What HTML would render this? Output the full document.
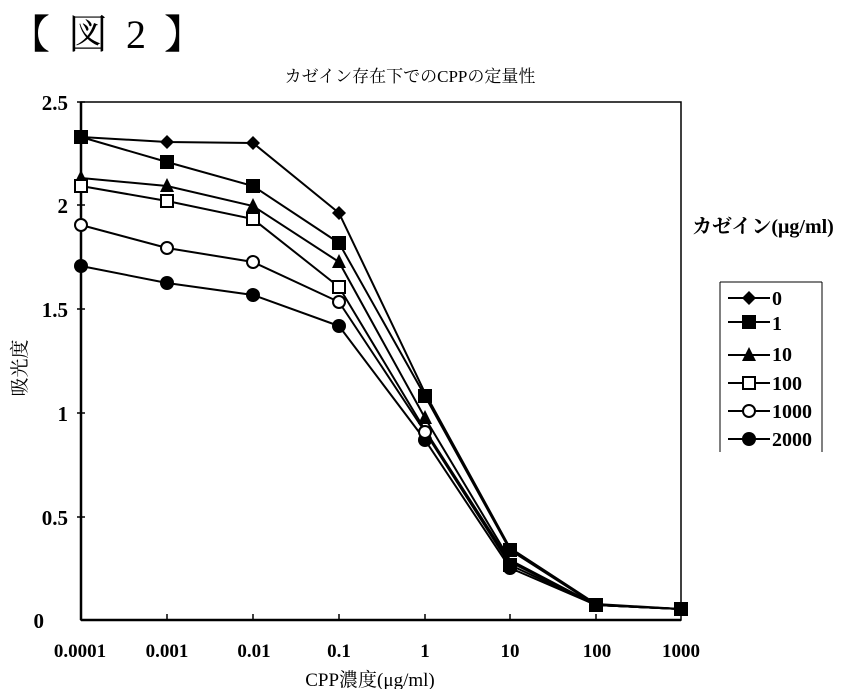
<!DOCTYPE html>
<html><head><meta charset="utf-8"><style>
html,body{margin:0;padding:0;background:#fff;}
svg{display:block;}
text{font-family:"Liberation Serif","Noto Serif CJK SC","Noto Sans CJK JP",serif;fill:#000;}
</style></head><body>
<svg width="861" height="689" viewBox="0 0 861 689" xmlns="http://www.w3.org/2000/svg">
<defs>
<g id="dia"><polygon points="0,-7 7,0 0,7 -7,0" fill="#000"/></g>
<g id="sq"><rect x="-7" y="-7" width="14" height="14" fill="#000"/></g>
<g id="tri"><polygon points="0,-8 7,6 -7,6" fill="#000"/></g>
<g id="osq"><rect x="-6" y="-6" width="12" height="12" fill="#fff" stroke="#000" stroke-width="2"/></g>
<g id="oci"><circle r="6" fill="#fff" stroke="#000" stroke-width="2"/></g>
<g id="fci"><circle r="7" fill="#000"/></g>
</defs>
<text x="10" y="48" font-size="40" font-family="Liberation Sans,Noto Sans CJK JP,sans-serif" letter-spacing="4">【 図 2 】</text>
<text x="410" y="82" font-size="17" text-anchor="middle">カゼイン存在下でのCPPの定量性</text>
<rect x="81" y="102" width="600" height="518" fill="none" stroke="#000" stroke-width="1.5"/>
<line x1="81" y1="102" x2="81" y2="620" stroke="#000" stroke-width="2.5"/>
<line x1="81" y1="620" x2="681" y2="620" stroke="#000" stroke-width="2.5"/>
<g stroke="#000" stroke-width="1.5">
<line x1="77" y1="102" x2="85" y2="102"/><line x1="77" y1="205" x2="85" y2="205"/><line x1="77" y1="309" x2="85" y2="309"/><line x1="77" y1="413" x2="85" y2="413"/><line x1="77" y1="517" x2="85" y2="517"/>
<line x1="167" y1="614" x2="167" y2="620"/><line x1="253" y1="614" x2="253" y2="620"/><line x1="339" y1="614" x2="339" y2="620"/><line x1="425" y1="614" x2="425" y2="620"/><line x1="510" y1="614" x2="510" y2="620"/><line x1="596" y1="614" x2="596" y2="620"/>
</g>
<g font-size="21" font-weight="bold" text-anchor="end">
<text x="68" y="110">2.5</text><text x="68" y="213">2</text><text x="68" y="317">1.5</text><text x="68" y="421">1</text><text x="68" y="525">0.5</text><text x="44" y="628">0</text>
</g>
<g font-size="19" font-weight="bold" text-anchor="middle">
<text x="80" y="657">0.0001</text><text x="167" y="657">0.001</text><text x="254" y="657">0.01</text><text x="339" y="657">0.1</text><text x="425" y="657">1</text><text x="510" y="657">10</text><text x="597" y="657">100</text><text x="681" y="657">1000</text>
</g>
<text x="370" y="686" font-size="19" text-anchor="middle">CPP濃度(μg/ml)</text>
<text transform="translate(26,368) rotate(-90)" font-size="19" text-anchor="middle">吸光度</text>
<g fill="none" stroke="#000" stroke-width="2">
<polyline points="81,137 167,142 253,143 339,213 425,393 510,548 596,604 681,609"/>
<polyline points="81,137 167,162 253,186 339,243 425,396 510,550 596,605 681,609"/>
<polyline points="81,178 167,186 253,206 339,262 425,418 510,560 596,605 681,609"/>
<polyline points="81,186 167,201 253,219 339,287 425,430 510,562 596,605 681,609"/>
<polyline points="81,225 167,248 253,262 339,302 425,432 510,565 596,605 681,609"/>
<polyline points="81,266 167,283 253,295 339,326 425,440 510,568 596,605 681,609"/>
</g>
<g>
<use href="#dia" x="167" y="142"/><use href="#dia" x="253" y="143"/><use href="#dia" x="339" y="213"/>
<use href="#fci" x="81" y="266"/><use href="#fci" x="167" y="283"/><use href="#fci" x="253" y="295"/><use href="#fci" x="339" y="326"/><use href="#fci" x="425" y="440"/><use href="#fci" x="510" y="568"/>
<use href="#oci" x="81" y="225"/><use href="#oci" x="167" y="248"/><use href="#oci" x="253" y="262"/><use href="#oci" x="339" y="302"/><use href="#oci" x="425" y="432"/>
<use href="#tri" x="81" y="178"/><use href="#tri" x="167" y="186"/><use href="#tri" x="253" y="206"/><use href="#tri" x="339" y="262"/><use href="#tri" x="425" y="418"/>
<use href="#osq" x="81" y="186"/><use href="#osq" x="167" y="201"/><use href="#osq" x="253" y="219"/><use href="#osq" x="339" y="287"/>
<use href="#sq" x="81" y="137"/><use href="#sq" x="167" y="162"/><use href="#sq" x="253" y="186"/><use href="#sq" x="339" y="243"/><use href="#sq" x="425" y="396"/><use href="#sq" x="510" y="550"/><use href="#sq" x="510" y="565"/><use href="#sq" x="596" y="605"/><use href="#sq" x="681" y="609"/>
</g>
<text x="692" y="233" font-size="20" font-weight="bold">カゼイン(μg/ml)</text>
<line x1="720" y1="282" x2="720" y2="452" stroke="#000" stroke-width="1"/>
<line x1="720" y1="282" x2="822" y2="282" stroke="#000" stroke-width="1"/>
<line x1="822" y1="282" x2="822" y2="452" stroke="#000" stroke-width="1"/>
<g stroke="#000" stroke-width="2">
<line x1="728" y1="298" x2="770" y2="298"/><line x1="728" y1="322" x2="770" y2="322"/><line x1="728" y1="355" x2="770" y2="355"/><line x1="728" y1="383" x2="770" y2="383"/><line x1="728" y1="411" x2="770" y2="411"/><line x1="728" y1="439" x2="770" y2="439"/>
</g>
<use href="#dia" x="749" y="298"/><use href="#sq" x="749" y="322"/><use href="#tri" x="749" y="355"/><use href="#osq" x="749" y="383"/><use href="#oci" x="749" y="411"/><use href="#fci" x="749" y="439"/>
<g font-size="20" font-weight="bold">
<text x="772" y="305">0</text><text x="772" y="330">1</text><text x="772" y="361">10</text><text x="772" y="390">100</text><text x="772" y="418">1000</text><text x="772" y="446">2000</text>
</g>
</svg>
</body></html>
